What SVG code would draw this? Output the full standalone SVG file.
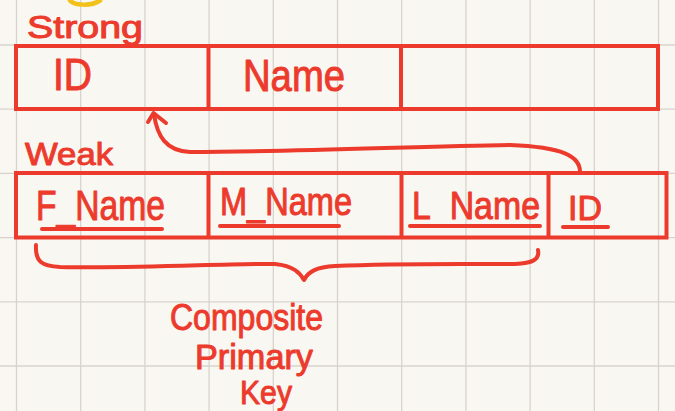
<svg xmlns="http://www.w3.org/2000/svg" width="675" height="411" viewBox="0 0 675 411">
  <defs>
    <style>
      .ink { fill: none; stroke: #EC3B2C; stroke-width: 4; stroke-linecap: round; stroke-linejoin: round; }
      .box { fill: none; stroke: #EC3B2C; stroke-width: 4; stroke-linejoin: miter; }
      .grid { stroke: #D7D3CC; stroke-width: 1.3; }
      .hand { fill: #EC3B2C; stroke: #EC3B2C; stroke-width: 1; stroke-linejoin: round; font-family: "Liberation Sans", "DejaVu Sans", sans-serif; }
      .ul { fill: none; stroke: #EC3B2C; stroke-width: 4; stroke-linecap: round; }
    </style>
  </defs>

  <!-- paper -->
  <rect x="0" y="0" width="675" height="411" fill="#F9F7F2"/>

  <!-- squared grid -->
  <g id="grid" class="grid">
    <line x1="16.5" y1="0" x2="16.5" y2="411"/>
    <line x1="80.7" y1="0" x2="80.7" y2="411"/>
    <line x1="144.9" y1="0" x2="144.9" y2="411"/>
    <line x1="209.1" y1="0" x2="209.1" y2="411"/>
    <line x1="273.3" y1="0" x2="273.3" y2="411"/>
    <line x1="337.5" y1="0" x2="337.5" y2="411"/>
    <line x1="401.7" y1="0" x2="401.7" y2="411"/>
    <line x1="465.9" y1="0" x2="465.9" y2="411"/>
    <line x1="530.1" y1="0" x2="530.1" y2="411"/>
    <line x1="594.3" y1="0" x2="594.3" y2="411"/>
    <line x1="658.5" y1="0" x2="658.5" y2="411"/>
    <line x1="0" y1="45" x2="675" y2="45"/>
    <line x1="0" y1="109.2" x2="675" y2="109.2"/>
    <line x1="0" y1="173.4" x2="675" y2="173.4"/>
    <line x1="0" y1="237.6" x2="675" y2="237.6"/>
    <line x1="0" y1="301.8" x2="675" y2="301.8"/>
    <line x1="0" y1="366" x2="675" y2="366"/>
  </g>

  <!-- yellow stroke left over at the top edge -->
  <path d="M 70 0.5 C 74 5, 90 7, 100 0.5" fill="none" stroke="#F2C21B" stroke-width="4.5" stroke-linecap="round"/>

  <!-- Strong entity -->
  <g id="strong">
    <text class="hand" x="27" y="38" font-size="32" textLength="116" lengthAdjust="spacingAndGlyphs">Strong</text>
    <rect class="box" x="16" y="46" width="642" height="63"/>
    <line class="box" x1="208.5" y1="46" x2="208.5" y2="109"/>
    <line class="box" x1="401" y1="46" x2="401" y2="109"/>
    <text class="hand" x="53" y="90" font-size="44" textLength="39" lengthAdjust="spacingAndGlyphs">ID</text>
    <text class="hand" x="243" y="91" font-size="44" textLength="102" lengthAdjust="spacingAndGlyphs">Name</text>
  </g>

  <!-- Weak entity -->
  <g id="weak">
    <text class="hand" x="25" y="165" font-size="32" textLength="88" lengthAdjust="spacingAndGlyphs">Weak</text>
    <rect class="box" x="16" y="173" width="650.5" height="64.5"/>
    <line class="box" x1="208.5" y1="173" x2="208.5" y2="237.5"/>
    <line class="box" x1="401.5" y1="173" x2="401.5" y2="237.5"/>
    <line class="box" x1="548.5" y1="173" x2="548.5" y2="237.5"/>
    <text class="hand" x="36" y="220" font-size="42" textLength="129" lengthAdjust="spacingAndGlyphs">F_Name</text>
    <line class="ul" x1="42" y1="229" x2="162" y2="229"/>
    <text class="hand" x="220" y="215" font-size="38" textLength="132" lengthAdjust="spacingAndGlyphs">M_Name</text>
    <line class="ul" x1="220" y1="226" x2="339" y2="226"/>
    <text class="hand" x="412" y="219" font-size="38" textLength="128" lengthAdjust="spacingAndGlyphs">L_Name</text>
    <line class="ul" x1="410" y1="226" x2="540" y2="226"/>
    <text class="hand" x="568" y="220" font-size="35" textLength="34" lengthAdjust="spacingAndGlyphs">ID</text>
    <line class="ul" x1="563" y1="227" x2="608" y2="227"/>
  </g>

  <!-- connectors -->
  <g id="connectors">
    <!-- foreign key reference: weak ID back to strong ID -->
    <path class="ink" d="M 580 173 C 581 156, 562 147, 510 145 C 420 146, 300 152, 190 152 C 166 151, 157 136, 154 114"/>
    <polyline class="ink" points="148,122 153.5,113 166,123"/>
    <!-- brace under the composite key columns -->
    <path class="ink" d="M 36 245 C 35 262, 42 266, 60 267 C 140 269, 230 263, 275 264 C 294 266, 300 273, 304 280 C 308 272, 316 267, 335 266 C 400 263, 470 264, 515 264 C 532 263, 540 260, 538 250"/>
  </g>

  <!-- brace caption -->
  <g id="caption">
    <text class="hand" x="170" y="330" font-size="37" textLength="153" lengthAdjust="spacingAndGlyphs">Composite</text>
    <text class="hand" x="195" y="369" font-size="35" textLength="118" lengthAdjust="spacingAndGlyphs">Primary</text>
    <text class="hand" x="240" y="404" font-size="33" textLength="52" lengthAdjust="spacingAndGlyphs">Key</text>
  </g>
</svg>
